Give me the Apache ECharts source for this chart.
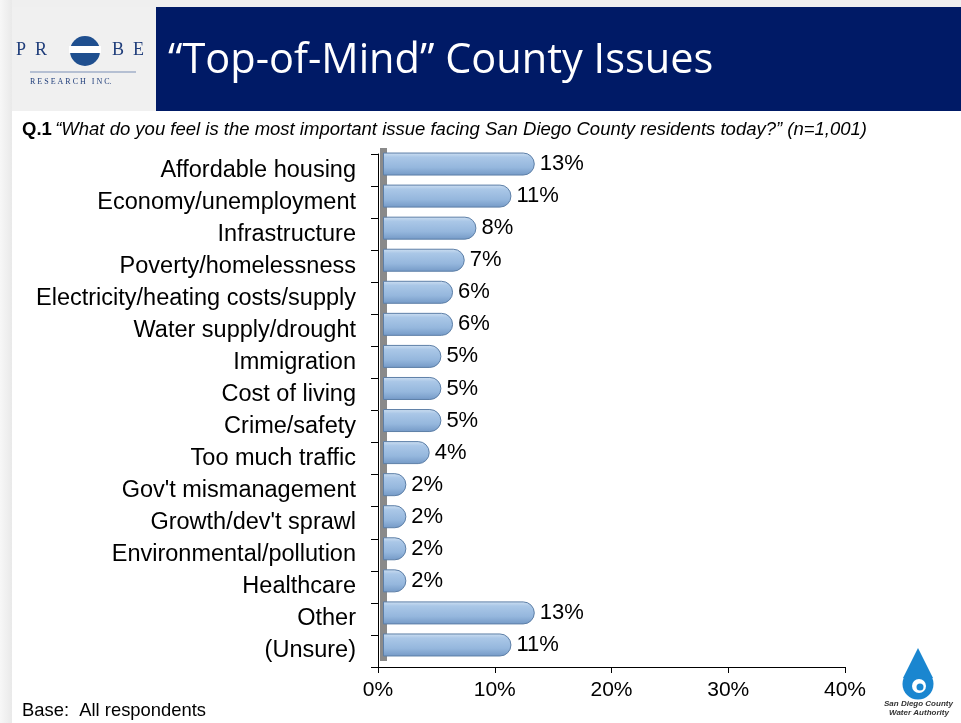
<!DOCTYPE html>
<html><head><meta charset="utf-8">
<script src="https://cdn.jsdelivr.net/npm/echarts@6/dist/echarts.min.js"></script>
<style>html,body{margin:0;padding:0;background:#fff}#c{width:961px;height:723px}</style>
</head><body><div id="c"></div>
<script>
const categories = ["Affordable housing","Economy/unemployment","Infrastructure","Poverty/homelessness","Electricity/heating costs/supply","Water supply/drought","Immigration","Cost of living","Crime/safety","Too much traffic","Gov't mismanagement","Growth/dev't sprawl","Environmental/pollution","Healthcare","Other","(Unsure)"];
const values = [13,11,8,7,6,6,5,5,5,4,2,2,2,2,13,11];
const xTicks = [0,10,20,30,40];
const title = "\u201cTop-of-Mind\u201d County Issues";
const question = "\u201cWhat do you feel is the most important issue facing San Diego County residents today?\u201d (n=1,001)";

const chart = echarts.init(document.getElementById('c'), null, {renderer:'canvas'});
const F = '"Liberation Sans", Arial, sans-serif';
const gridTop = 154, gridH = 513, plotW = 467;
function lin(x2,y2,stops){return {type:'linear',x:0,y:0,x2:x2,y2:y2,colorStops:stops};}
chart.setOption({
  animation:false,
  backgroundColor:'#ffffff',
  graphic:[
    {type:'rect', x:0, y:0, shape:{x:0,y:0,width:961,height:7}, style:{fill:'#efefef'}, z:-10},
    {type:'rect', x:0, y:0, shape:{x:0,y:0,width:12,height:723}, style:{fill:lin(1,0,[{offset:0,color:'#f7f7f7'},{offset:1,color:'#e9e9e9'}])}, z:-10},
    {type:'rect', x:0, y:0, shape:{x:12,y:7,width:144,height:104}, style:{fill:'#f0f0f0'}},
    {type:'rect', x:0, y:0, shape:{x:156,y:7,width:805,height:104}, style:{fill:'#001a66'}},
    {type:'text', x:168, y:40, style:{text:title, fill:'#ffffff', font:'41.5px "Open Sans", sans-serif'}},
    {type:'text', x:16, y:41, style:{text:'P  R', fill:'#1f3d7a', font:'18px "Liberation Serif", serif'}},
    {type:'text', x:112, y:41, style:{text:'B  E', fill:'#1f3d7a', font:'18px "Liberation Serif", serif'}},
    {type:'circle', x:0, y:0, shape:{cx:85,cy:51,r:15}, style:{fill:'#1f4f8f'}},
    {type:'rect', x:0, y:0, shape:{x:69,y:46,width:32,height:7}, style:{fill:'#ffffff'}},
    {type:'line', x:0, y:0, shape:{x1:30,y1:72,x2:136,y2:72}, style:{stroke:'#7a8fb5', lineWidth:1}},
    {type:'text', x:30, y:78, style:{text:'R E S E A R C H   I N C.', fill:'#1f3d7a', font:'8px "Liberation Serif", serif'}},
    {type:'text', x:22, y:120, style:{rich:{b:{font:'bold 18.5px '+F, fill:'#000'}, i:{font:'italic 18.5px '+F, fill:'#000'}}, text:'{b|Q.1} {i|'+question+'}'}},
    {type:'text', x:22, y:702, style:{text:'Base:  All respondents', fill:'#000', font:'18.4px '+F}},
    {type:'polygon', x:0, y:0, shape:{points:[[918,648],[903,678],[933,678]]}, style:{fill:'#1a86d0'}},
    {type:'circle', x:0, y:0, shape:{cx:918,cy:684,r:15.5}, style:{fill:'#1a86d0'}},
    {type:'circle', x:0, y:0, shape:{cx:919,cy:686,r:7}, style:{fill:'#ffffff'}},
    {type:'circle', x:0, y:0, shape:{cx:920,cy:687,r:3.5}, style:{fill:'#1a86d0'}},
    {type:'text', x:884, y:700, style:{text:'San Diego County', fill:'#333', font:'bold italic 8px '+F}},
    {type:'text', x:889, y:709, style:{text:'Water Authority', fill:'#333', font:'bold italic 8px '+F}}
  ],
  grid:[
    {left:378, top:gridTop, width:plotW, height:gridH},
    {left:383, top:gridTop-6, width:plotW, height:gridH}
  ],
  xAxis:[
    {gridIndex:0, type:'value', min:0, max:40, interval:10, position:'bottom',
     axisLine:{show:true, lineStyle:{color:'#000', width:1}},
     axisTick:{show:true, length:6, lineStyle:{color:'#000'}},
     axisLabel:{formatter:v=>v+'%', fontSize:21, fontFamily:F, color:'#000', margin:13},
     splitLine:{show:false}},
    {gridIndex:1, type:'value', min:0, max:40, show:false, splitLine:{show:false}}
  ],
  yAxis:[
    {gridIndex:0, type:'category', data:categories, inverse:true,
     axisLine:{show:true, lineStyle:{color:'#000', width:1}},
     axisTick:{show:true, length:7, lineStyle:{color:'#000'}},
     axisLabel:{fontSize:23.5, fontFamily:F, color:'#000', margin:22}},
    {gridIndex:1, type:'category', data:categories, inverse:true,
     axisLine:{show:true, lineStyle:{color:'#8a8a8a', width:7, cap:'butt'}},
     axisTick:{show:false}, axisLabel:{show:false}}
  ],
  series:[{
    type:'bar', xAxisIndex:1, yAxisIndex:1, data:values, barWidth:23, z:3,
    itemStyle:{
      color:lin(0,1,[{offset:0,color:'#cfe0f2'},{offset:0.2,color:'#aac7e7'},{offset:0.65,color:'#95b7dd'},{offset:1,color:'#7499c6'}]),
      borderColor:'#5d7fa7', borderWidth:1, borderRadius:[0,11,11,0]
    },
    label:{show:true, position:'right', distance:5, formatter:p=>p.value+'%', fontSize:22, fontFamily:F, color:'#000'}
  }]
});
</script></body></html>
